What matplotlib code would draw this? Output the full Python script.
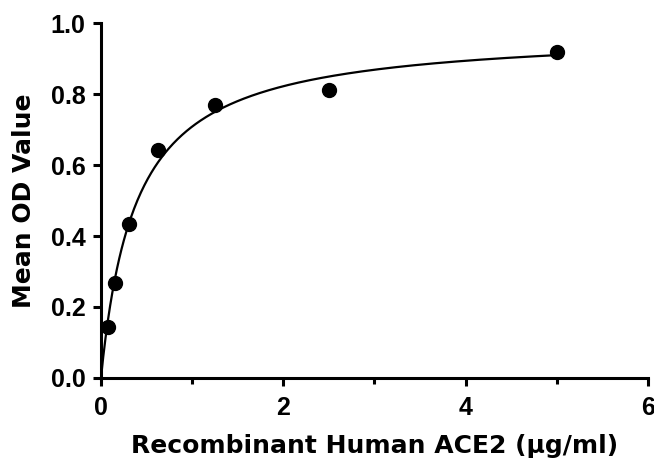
import numpy as np
import matplotlib
matplotlib.use("Agg")
import matplotlib.pyplot as plt
from matplotlib.ticker import MultipleLocator, FormatStrFormatter

conc = [0.078, 0.156, 0.3125, 0.625, 1.25, 2.5, 5.0]
od = [0.144, 0.268, 0.434, 0.642, 0.769, 0.811, 0.918]
xlabel = "Recombinant Human ACE2 (μg/ml)"
ylabel = "Mean OD Value"

# One-site saturation fit y = Bmax*x/(Kd+x), least squares over Kd grid
x = np.array(conc); y = np.array(od)
best = None
for kd in np.linspace(0.05, 2.0, 4000):
    f = x / (kd + x)
    b = (f @ y) / (f @ f)
    r = np.sum((y - b * f) ** 2)
    if best is None or r < best[0]:
        best = (r, kd, b)
_, kd, bmax = best
xs = np.linspace(0, max(conc), 400)
ys = bmax * xs / (kd + xs)

plt.rcParams['font.family'] = ['Liberation Sans', 'DejaVu Sans']
plt.rcParams['font.weight'] = 'bold'

fig = plt.figure(figsize=(6.54, 4.63), dpi=100)
ax = fig.add_axes([0.1544, 0.1836, 0.8364, 0.7667])
ax.plot(xs, ys, color='black', lw=1.6, zorder=2)
ax.plot(conc, od, 'o', color='black', ms=10, zorder=3, clip_on=False)

ax.set_xlim(0, 6)
ax.set_ylim(0, 1.0)
ax.xaxis.set_major_locator(MultipleLocator(2))
ax.xaxis.set_minor_locator(MultipleLocator(1))
ax.yaxis.set_major_locator(MultipleLocator(0.2))
ax.yaxis.set_major_formatter(FormatStrFormatter('%.1f'))
for s in ['top', 'right']:
    ax.spines[s].set_visible(False)
for s in ['left', 'bottom']:
    ax.spines[s].set_linewidth(2.2)
ax.tick_params(which='major', direction='out', length=6, width=2.2, labelsize=18)
ax.tick_params(axis='x', which='major', pad=7)
ax.tick_params(axis='y', which='major', pad=5)
ax.tick_params(which='minor', direction='out', length=4, width=2.2)
ax.set_xlabel(xlabel, fontsize=18, fontweight='bold', family=['DejaVu Sans'], labelpad=10)
ax.set_ylabel(ylabel, fontsize=18, fontweight='bold', family=['DejaVu Sans'], labelpad=11)
fig.savefig("out.png", dpi=100)
